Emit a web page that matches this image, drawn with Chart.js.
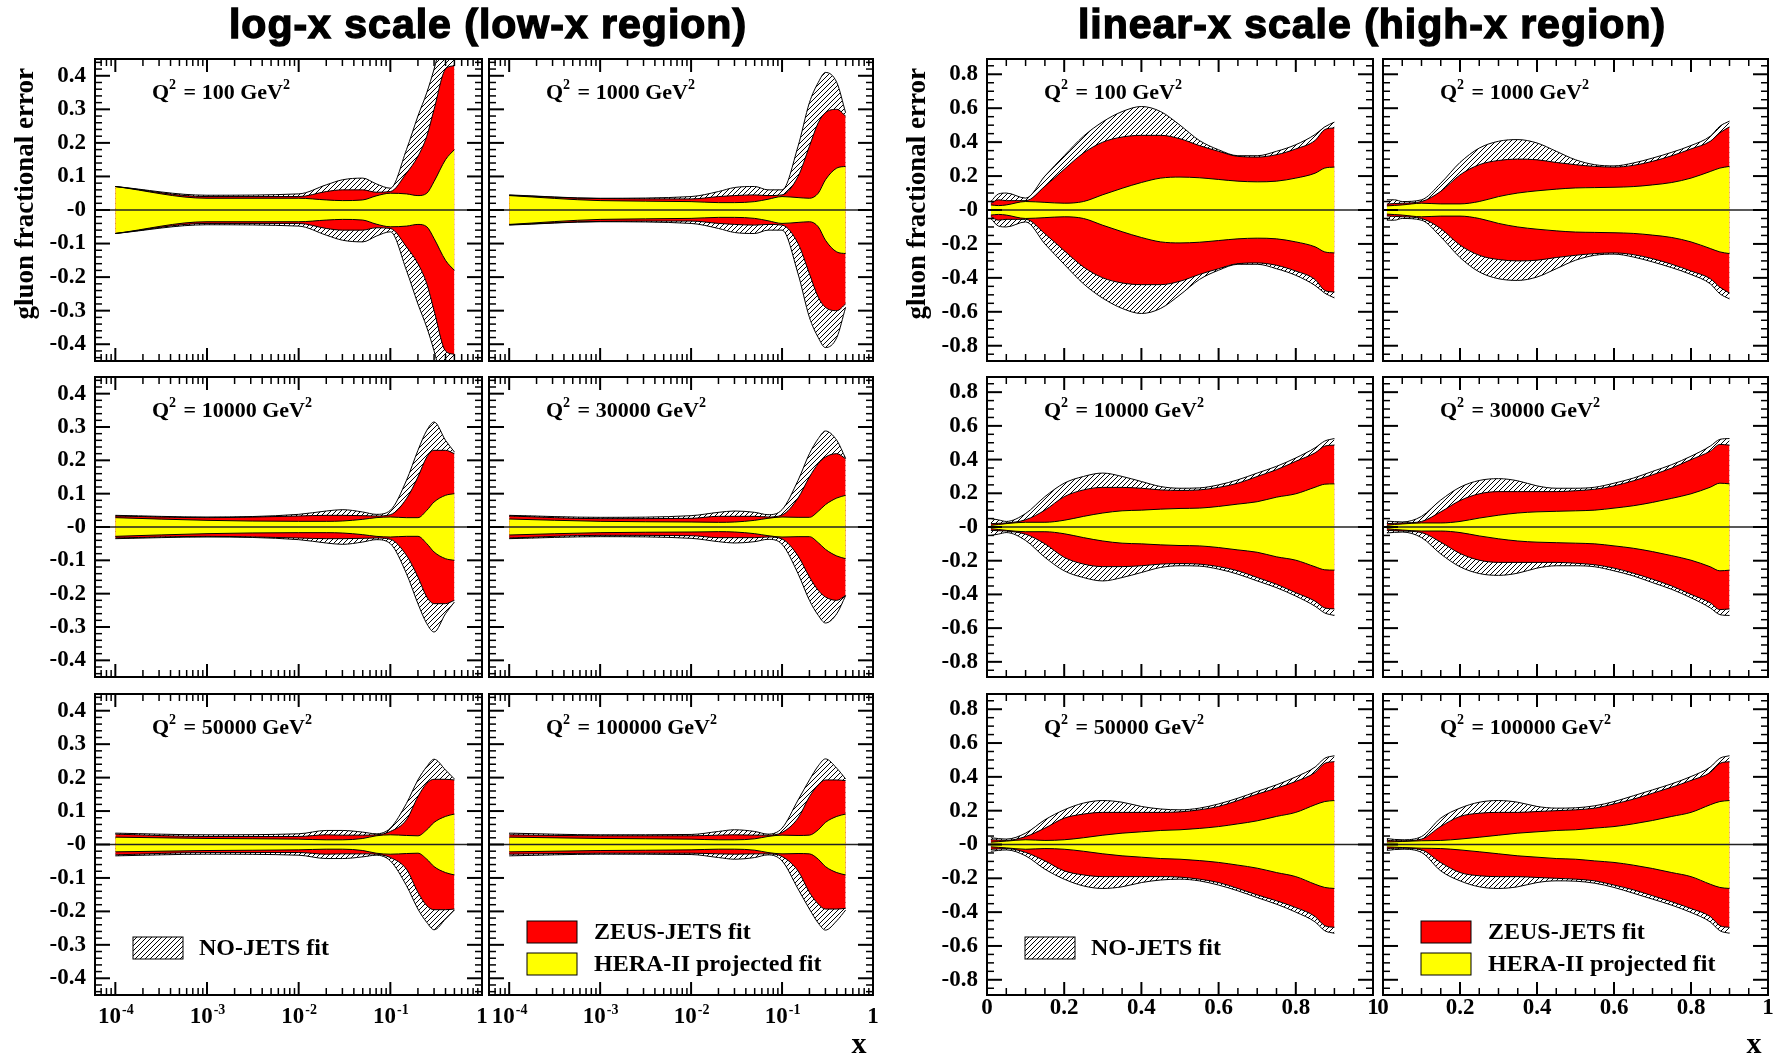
<!DOCTYPE html>
<html>
<head>
<meta charset="utf-8">
<script src="https://cdn.jsdelivr.net/npm/chart.js@4.4.0/dist/chart.umd.min.js"></script>
<style>
body { margin: 0; width: 1774px; height: 1056px; background: #fff; position: relative; overflow: hidden; }
canvas { position: absolute; }
.title { position: absolute; top: 1px; font: bold 41px "Liberation Sans", Arial, sans-serif; letter-spacing: 1px;
         -webkit-text-stroke: 1.4px #000; white-space: nowrap; transform: translateX(-50%); z-index: 5; }
</style>
</head>
<body>
<div class="title" style="left:488px">log-x scale (low-x region)</div>
<div class="title" style="left:1372px">linear-x scale (high-x region)</div>
<script>
// x grids
const xLog = [1e-4, 1e-3, 1e-2, 2e-2, 3e-2, 5e-2, 7e-2, 0.1, 0.15, 0.2, 0.25, 0.3, 0.4, 0.5];
const xLin = [0.01, 0.03, 0.05, 0.1, 0.15, 0.2, 0.25, 0.3, 0.35, 0.4, 0.45, 0.5, 0.55, 0.6, 0.65, 0.7, 0.75, 0.8, 0.85, 0.875, 0.9];

// half-widths of the bands (fractional error), log-x panels
const noJetsLog100 = [.07, .044, .048, .075, .09, .095, .078, .065, .18, .28, .35, .42, .55, .60];
const zeusLog100   = [.07, .04, .04, .055, .06, .06, .053, .055, .11, .16, .22, .30, .42, .43];
const heraLog100   = [.07, .035, .035, .03, .028, .03, .042, .05, .048, .043, .05, .085, .15, .18];

const noJetsLog1000 = [.045, .035, .04, .055, .067, .07, .06, .06, .19, .32, .38, .41, .38, .29];
const zeusLog1000   = [.044, .034, .033, .04, .043, .045, .043, .045, .10, .19, .26, .29, .30, .28];
const heraLog1000   = [.043, .028, .025, .022, .022, .025, .032, .04, .037, .035, .05, .09, .125, .13];

const noJetsLog10000 = [.035, .03, .038, .048, .052, .045, .038, .05, .14, .23, .29, .315, .26, .225];
const zeusLog10000   = [.033, .028, .033, .035, .035, .034, .033, .037, .085, .15, .21, .23, .23, .22];
const heraLog10000   = [.028, .02, .017, .017, .018, .023, .028, .03, .028, .028, .05, .075, .095, .10];

const noJetsLog30000 = [.035, .029, .034, .044, .048, .044, .037, .052, .14, .22, .265, .288, .26, .206];
const zeusLog30000   = [.033, .025, .026, .032, .032, .032, .03, .036, .087, .15, .19, .21, .22, .205];
const heraLog30000   = [.024, .017, .015, .014, .015, .02, .026, .03, .029, .029, .047, .067, .087, .095];

const noJetsLog50000 = [.034, .029, .032, .042, .042, .037, .032, .049, .123, .193, .233, .255, .223, .196];
const zeusLog50000   = [.031, .024, .024, .029, .028, .028, .029, .039, .074, .143, .183, .195, .195, .193];
const heraLog50000   = [.022, .018, .016, .014, .014, .018, .026, .029, .027, .026, .044, .066, .084, .091];

const noJetsLog100000 = [.034, .029, .03, .039, .044, .039, .031, .049, .133, .193, .235, .256, .228, .196];
const zeusLog100000   = [.029, .026, .026, .028, .029, .028, .028, .036, .079, .143, .178, .193, .193, .191];
const heraLog100000   = [.022, .018, .016, .014, .014, .017, .024, .028, .027, .028, .044, .066, .084, .091];

// linear-x panels
const noJetsLin100 = [.05, .095, .1, .07, .20, .32, .435, .52, .58, .61, .58, .50, .41, .355, .32, .32, .346, .385, .445, .49, .518];
const zeusLin100   = [.04, .06, .055, .055, .14, .24, .336, .40, .43, .44, .44, .42, .38, .346, .316, .312, .326, .36, .41, .474, .484];
const heraLin100   = [.03, .026, .03, .05, .045, .04, .05, .09, .128, .162, .188, .194, .19, .18, .17, .166, .17, .188, .217, .247, .253];

const noJetsLin1000 = [.06, .06, .05, .06, .158, .28, .365, .405, .415, .395, .346, .296, .267, .26, .277, .306, .34, .38, .435, .494, .524];
const zeusLin1000   = [.035, .038, .04, .05, .11, .207, .267, .292, .30, .296, .28, .267, .257, .253, .263, .287, .32, .36, .405, .455, .49];
const heraLin1000   = [.024, .027, .03, .04, .036, .036, .05, .079, .10, .113, .123, .13, .132, .134, .138, .148, .162, .188, .227, .247, .257];

const noJetsLin10000 = [.05, .042, .033, .08, .18, .26, .30, .32, .30, .27, .24, .23, .232, .25, .28, .32, .36, .41, .47, .51, .525];
const zeusLin10000   = [.02, .022, .024, .043, .10, .18, .22, .235, .235, .23, .22, .217, .22, .235, .26, .30, .34, .39, .44, .48, .486];
const heraLin10000   = [.01, .015, .02, .028, .028, .04, .063, .083, .096, .10, .106, .11, .112, .122, .136, .15, .177, .197, .236, .254, .256];

const noJetsLin30000 = [.035, .032, .03, .063, .16, .236, .276, .287, .274, .244, .23, .23, .236, .26, .29, .33, .37, .42, .48, .52, .525];
const zeusLin30000   = [.02, .022, .024, .033, .09, .157, .197, .21, .21, .21, .21, .215, .224, .244, .274, .31, .35, .40, .45, .49, .486];
const heraLin30000   = [.01, .015, .018, .024, .024, .033, .053, .07, .083, .09, .093, .096, .10, .112, .126, .146, .17, .197, .236, .26, .256];

const noJetsLin50000 = [.04, .035, .032, .067, .146, .205, .245, .26, .25, .225, .21, .205, .215, .24, .274, .314, .353, .40, .458, .51, .525];
const zeusLin50000   = [.028, .026, .024, .047, .097, .156, .18, .19, .19, .19, .19, .193, .205, .225, .26, .298, .333, .373, .426, .48, .49];
const heraLin50000   = [.014, .017, .02, .028, .024, .028, .04, .055, .067, .075, .083, .087, .095, .106, .122, .14, .166, .19, .235, .254, .26];

const noJetsLin100000 = [.035, .03, .028, .047, .156, .215, .25, .26, .25, .225, .215, .217, .229, .254, .288, .323, .359, .402, .458, .51, .525];
const zeusLin100000   = [.025, .022, .022, .032, .107, .166, .185, .19, .19, .195, .20, .205, .215, .24, .268, .303, .339, .379, .426, .48, .49];
const heraLin100000   = [.015, .016, .018, .022, .024, .032, .043, .055, .067, .075, .083, .087, .097, .106, .122, .142, .166, .19, .235, .254, .26];

// tick labels
const yTickValsLog = [0.4, 0.3, 0.2, 0.1, 0, -0.1, -0.2, -0.3, -0.4];
const yTickLabelsLog = ['0.4', '0.3', '0.2', '0.1', '-0', '-0.1', '-0.2', '-0.3', '-0.4'];
const yTickValsLin = [0.8, 0.6, 0.4, 0.2, 0, -0.2, -0.4, -0.6, -0.8];
const yTickLabelsLin = ['0.8', '0.6', '0.4', '0.2', '-0', '-0.2', '-0.4', '-0.6', '-0.8'];
const xTickValsLog = [1e-4, 1e-3, 1e-2, 1e-1, 1];
const xTickLabelsLog = ['10^-4', '10^-3', '10^-2', '10^-1', '1'];
const xTickValsLin = [0, 0.2, 0.4, 0.6, 0.8, 1];
const xTickLabelsLin = ['0', '0.2', '0.4', '0.6', '0.8', '1'];

const q2Values = ['100', '1000', '10000', '30000', '50000', '100000'];
const logBands = [
  [noJetsLog100, zeusLog100, heraLog100], [noJetsLog1000, zeusLog1000, heraLog1000],
  [noJetsLog10000, zeusLog10000, heraLog10000], [noJetsLog30000, zeusLog30000, heraLog30000],
  [noJetsLog50000, zeusLog50000, heraLog50000], [noJetsLog100000, zeusLog100000, heraLog100000]
];
const linBands = [
  [noJetsLin100, zeusLin100, heraLin100], [noJetsLin1000, zeusLin1000, heraLin1000],
  [noJetsLin10000, zeusLin10000, heraLin10000], [noJetsLin30000, zeusLin30000, heraLin30000],
  [noJetsLin50000, zeusLin50000, heraLin50000], [noJetsLin100000, zeusLin100000, heraLin100000]
];

// page layout of the panel frames
const colEdges = [[95, 482], [489, 873], [987, 1373], [1383, 1768]];
const rowEdges = [[59, 361], [377, 677], [694, 995]];
const ML = 100, MR = 30, MT = 50, MB = 70;

const SERIF = '"Liberation Serif", "Times New Roman", serif';
const RED = '#ff0000', YELLOW = '#ffff00';

function makeHatch() {
  const c = document.createElement('canvas');
  c.width = 5; c.height = 5;
  const g = c.getContext('2d');
  g.strokeStyle = '#000';
  g.lineWidth = 1;
  g.beginPath();
  g.moveTo(-1, 6); g.lineTo(6, -1);
  g.moveTo(-1, 1); g.lineTo(1, -1);
  g.moveTo(4, 6); g.lineTo(6, 4);
  g.stroke();
  return g.createPattern(c, 'repeat');
}
const hatch = makeHatch();

function line(ctx, x1, y1, x2, y2) {
  ctx.beginPath(); ctx.moveTo(x1, y1); ctx.lineTo(x2, y2); ctx.stroke();
}

// draws "Q² = 100 GeV²" with raised small 2s
function drawQ2(ctx, q, x, base) {
  const big = 'bold 22px ' + SERIF, small = 'bold 14px ' + SERIF;
  const parts = [['Q', big, 0], ['2', small, -10], [' = ' + q + ' GeV', big, 0], ['2', small, -10]];
  ctx.textAlign = 'left';
  ctx.textBaseline = 'alphabetic';
  parts.forEach(([t, f, dy]) => {
    ctx.font = f;
    ctx.fillText(t, x, base + dy);
    x += ctx.measureText(t).width + (dy ? 2 : 0);
  });
}

function drawXLabel(ctx, label, cx, base) {
  ctx.textBaseline = 'alphabetic';
  ctx.textAlign = 'left';
  const big = 'bold 23px ' + SERIF, small = 'bold 14px ' + SERIF;
  if (label.includes('^')) {
    const [b, e] = label.split('^');
    ctx.font = big; const wb = ctx.measureText(b).width;
    ctx.font = small; const we = ctx.measureText(e).width;
    const x0 = cx - (wb + we) / 2;
    ctx.font = big; ctx.fillText(b, x0, base);
    ctx.font = small; ctx.fillText(e, x0 + wb + 1, base - 9);
  } else {
    ctx.font = big;
    ctx.fillText(label, cx - ctx.measureText(label).width / 2, base);
  }
}

function panelPlugin(p) {
  return {
    id: 'panelDeco',
    afterDatasetsDraw(chart) {
      const { ctx, chartArea: a, scales: { y } } = chart;
      const y0 = y.getPixelForValue(0);
      ctx.save();
      ctx.strokeStyle = '#222';
      ctx.lineWidth = 1.4;
      line(ctx, a.left, y0, a.right, y0);
      ctx.restore();
    },
    afterDraw(chart) {
      const { ctx, chartArea: a, scales: { x, y } } = chart;
      ctx.save();
      ctx.strokeStyle = '#000';
      ctx.fillStyle = '#000';

      // y ticks on both sides
      const yStep = p.log ? 0.02 : 0.05, yEvery = p.log ? 5 : 4;
      const yN = Math.floor(y.max / yStep + 1e-9);
      for (let i = -yN; i <= yN; i++) {
        const py = y.getPixelForValue(i * yStep);
        const major = i % yEvery === 0;
        const len = major ? 15 : 7;
        ctx.lineWidth = major ? 2 : 1.5;
        line(ctx, a.left, py, a.left + len, py);
        line(ctx, a.right, py, a.right - len, py);
      }
      // x ticks on bottom and top
      const xt = [];
      if (p.log) {
        for (let e = -5; e <= 0; e++) {
          for (let k = 1; k <= 9; k++) {
            const v = k * Math.pow(10, e);
            if (v >= x.min * 0.999 && v <= x.max * 1.001) xt.push([v, k === 1]);
          }
        }
      } else {
        for (let i = 0; i <= 20; i++) xt.push([i * 0.05, i % 4 === 0]);
      }
      xt.forEach(([v, major]) => {
        const px = x.getPixelForValue(v);
        const len = major ? 13 : 7;
        ctx.lineWidth = major ? 2 : 1.5;
        line(ctx, px, a.bottom, px, a.bottom - len);
        line(ctx, px, a.top, px, a.top + len);
      });

      // frame
      ctx.lineWidth = 2;
      ctx.strokeRect(a.left, a.top, a.right - a.left, a.bottom - a.top);

      // y tick labels
      if (p.yLabels) {
        ctx.font = 'bold 23px ' + SERIF;
        ctx.textAlign = 'right';
        ctx.textBaseline = 'middle';
        const vals = p.log ? yTickValsLog : yTickValsLin;
        const labs = p.log ? yTickLabelsLog : yTickLabelsLin;
        vals.forEach((v, i) => ctx.fillText(labs[i], a.left - 9, y.getPixelForValue(v)));
      }
      // x tick labels
      if (p.xLabels) {
        const vals = p.log ? xTickValsLog : xTickValsLin;
        const labs = p.log ? xTickLabelsLog : xTickLabelsLin;
        const base = a.bottom + (p.log ? 28 : 19);
        vals.forEach((v, i) => drawXLabel(ctx, labs[i], x.getPixelForValue(v), base));
      }
      // y title
      if (p.yTitle) {
        ctx.save();
        ctx.translate(a.left - 69, a.top + 9);
        ctx.rotate(-Math.PI / 2);
        ctx.font = 'bold 27px ' + SERIF;
        ctx.textAlign = 'right';
        ctx.textBaseline = 'middle';
        ctx.fillText('gluon fractional error', 0, 0);
        ctx.restore();
      }
      // x title
      if (p.xTitle) {
        ctx.font = 'bold 30px ' + SERIF;
        ctx.textAlign = 'center';
        ctx.textBaseline = 'middle';
        ctx.fillText('x', a.right - 14, a.bottom + 50);
      }

      drawQ2(ctx, p.q2, a.left + 57, a.top + 40);

      // legends
      ctx.lineWidth = 1;
      ctx.font = 'bold 24px ' + SERIF;
      ctx.textAlign = 'left';
      ctx.textBaseline = 'middle';
      if (p.legend === 'nojets') {
        ctx.fillStyle = '#fff';
        ctx.fillRect(a.left + 38, a.top + 243, 50, 22);
        ctx.fillStyle = hatch;
        ctx.fillRect(a.left + 38, a.top + 243, 50, 22);
        ctx.strokeRect(a.left + 38, a.top + 243, 50, 22);
        ctx.fillStyle = '#000';
        ctx.fillText('NO-JETS fit', a.left + 104, a.top + 255);
      } else if (p.legend === 'fits') {
        ctx.fillStyle = RED;
        ctx.fillRect(a.left + 38, a.top + 227, 50, 22);
        ctx.strokeRect(a.left + 38, a.top + 227, 50, 22);
        ctx.fillStyle = YELLOW;
        ctx.fillRect(a.left + 38, a.top + 259, 50, 22);
        ctx.strokeRect(a.left + 38, a.top + 259, 50, 22);
        ctx.fillStyle = '#000';
        ctx.fillText('ZEUS-JETS fit', a.left + 105, a.top + 239);
        ctx.fillText('HERA-II projected fit', a.left + 105, a.top + 271);
      }
      ctx.restore();
    }
  };
}

function bandSets(xs, vals, color) {
  const up = xs.map((x, i) => ({ x: x, y: vals[i] }));
  const lo = xs.map((x, i) => ({ x: x, y: -vals[i] }));
  return [
    { data: up, fill: '+1', backgroundColor: color },
    { data: lo, fill: false }
  ];
}

function makePanel(log, idx) {
  const row = Math.floor(idx / 2);
  const col = (log ? 0 : 2) + idx % 2;
  const [fx0, fx1] = colEdges[col];
  const [fy0, fy1] = rowEdges[row];
  const w = fx1 - fx0, h = fy1 - fy0;

  const cv = document.createElement('canvas');
  cv.width = w + ML + MR;
  cv.height = h + MT + MB;
  cv.style.left = (fx0 - ML) + 'px';
  cv.style.top = (fy0 - MT) + 'px';
  document.body.appendChild(cv);

  const xs = log ? xLog : xLin;
  const [noJets, zeus, hera] = (log ? logBands : linBands)[idx];
  const p = {
    log: log,
    q2: q2Values[idx],
    yLabels: idx % 2 === 0,
    xLabels: row === 2,
    yTitle: idx === 0,
    xTitle: idx === 5,
    legend: row === 2 ? (idx % 2 === 0 ? 'nojets' : 'fits') : null
  };

  new Chart(cv, {
    type: 'line',
    data: {
      datasets: [
        ...bandSets(xs, hera, YELLOW),
        ...bandSets(xs, zeus, RED),
        ...bandSets(xs, noJets, hatch)
      ]
    },
    options: {
      responsive: false,
      animation: false,
      events: [],
      layout: { padding: { left: ML, right: MR, top: MT, bottom: MB } },
      scales: {
        x: log ? { type: 'logarithmic', min: 6e-5, max: 1, display: false }
               : { type: 'linear', min: 0, max: 1, display: false },
        y: { type: 'linear', min: log ? -0.45 : -0.89, max: log ? 0.45 : 0.89, display: false }
      },
      datasets: { line: { clip: 0 } },
      elements: {
        point: { radius: 0 },
        line: { borderWidth: 1, borderColor: '#000', cubicInterpolationMode: 'monotone' }
      },
      plugins: {
        legend: { display: false },
        tooltip: { enabled: false },
        filler: { drawTime: 'beforeDatasetsDraw' }
      }
    },
    plugins: [panelPlugin(p)]
  });
}

for (let i = 0; i < 6; i++) makePanel(true, i);
for (let i = 0; i < 6; i++) makePanel(false, i);
</script>
</body>
</html>
